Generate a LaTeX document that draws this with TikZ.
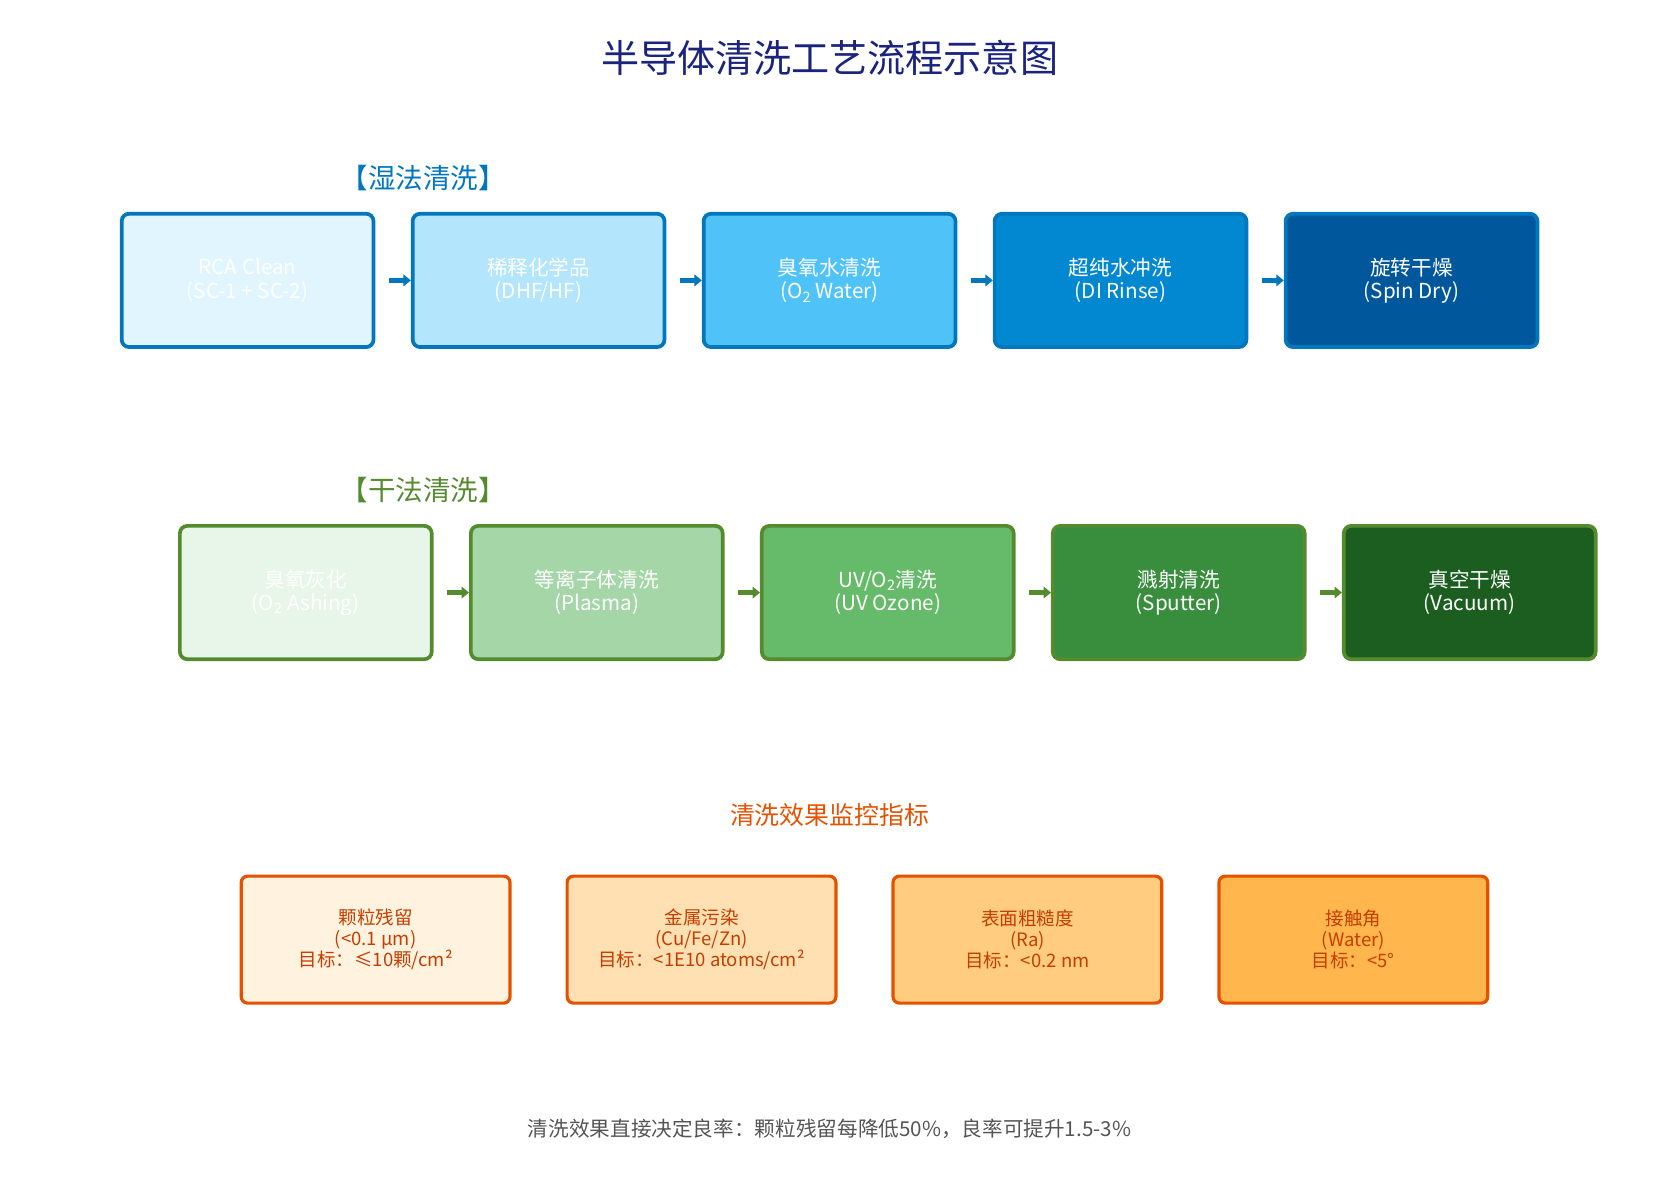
\documentclass[tikz,border=0pt]{standalone}
\usepackage{fontspec}
\setmainfont{Noto Sans CJK SC}
\usetikzlibrary{arrows.meta}

\definecolor{titleblue}{HTML}{1A237E}
\definecolor{wetline}{HTML}{0277BD}
\definecolor{wetA}{HTML}{E1F5FE}
\definecolor{wetB}{HTML}{B3E5FC}
\definecolor{wetC}{HTML}{4FC3F7}
\definecolor{wetD}{HTML}{0288D1}
\definecolor{wetE}{HTML}{01579B}
\definecolor{dryline}{HTML}{558B2F}
\definecolor{dryA}{HTML}{E8F5E9}
\definecolor{dryB}{HTML}{A5D6A7}
\definecolor{dryC}{HTML}{66BB6A}
\definecolor{dryD}{HTML}{388E3C}
\definecolor{dryE}{HTML}{1B5E20}
\definecolor{metline}{HTML}{E65100}
\definecolor{mettext}{HTML}{C43E00}
\definecolor{metA}{HTML}{FFF3E0}
\definecolor{metB}{HTML}{FFE0B2}
\definecolor{metC}{HTML}{FFCC80}
\definecolor{metD}{HTML}{FFB74D}
\definecolor{notegray}{HTML}{555555}

\tikzset{
  stepbox/.style={draw, line width=3.5pt, rounded corners=7pt, minimum width=238pt,
    minimum height=126pt, inner sep=0pt, align=center, text=white,
    font=\fontsize{19.5}{22}\selectfont},
  wetbox/.style={stepbox, draw=wetline},
  drybox/.style={stepbox, draw=dryline},
  metbox/.style={draw=metline, line width=3pt, rounded corners=6pt, minimum width=254pt,
    minimum height=120pt, inner sep=0pt, align=center, text=mettext,
    font=\fontsize{17.5}{20}\selectfont},
  heading/.style={font=\fontsize{26}{28}\selectfont},
  flow/.style={line width=4.5pt, shorten <=13pt, -{Triangle[length=7pt,width=11pt]}},
}

\begin{document}
\begin{tikzpicture}[x=1pt, y=-1pt]
\useasboundingbox (0,0) rectangle (1566,1120);

\node[text=titleblue, font=\fontsize{36}{40}\selectfont] (title) at (784,55) {半导体清洗工艺流程示意图};

% wet cleaning
\node[heading, text=wetline] (wethead) at (400,168) {【湿法清洗】};
\node[wetbox, fill=wetA] (wet1) at (234,265) {RCA Clean\\(SC-1 + SC-2)};
\node[wetbox, fill=wetB] (wet2) at (509,265) {稀释化学品\\(DHF/HF)};
\node[wetbox, fill=wetC] (wet3) at (784,265) {臭氧水清洗\\(O\textsubscript{2} Water)};
\node[wetbox, fill=wetD] (wet4) at (1059,265) {超纯水冲洗\\(DI Rinse)};
\node[wetbox, fill=wetE] (wet5) at (1334,265) {旋转干燥\\(Spin Dry)};

\foreach \a/\b in {wet1/wet2, wet2/wet3, wet3/wet4, wet4/wet5}
  \draw[flow, wetline] (\a) -- (\b);

% dry cleaning
\node[heading, text=dryline] (dryhead) at (400,463) {【干法清洗】};
\node[drybox, fill=dryA] (dry1) at (289,560) {臭氧灰化\\(O\textsubscript{2} Ashing)};
\node[drybox, fill=dryB] (dry2) at (564,560) {等离子体清洗\\(Plasma)};
\node[drybox, fill=dryC] (dry3) at (839,560) {UV/O\textsubscript{2}清洗\\(UV Ozone)};
\node[drybox, fill=dryD] (dry4) at (1114,560) {溅射清洗\\(Sputter)};
\node[drybox, fill=dryE] (dry5) at (1389,560) {真空干燥\\(Vacuum)};

\foreach \a/\b in {dry1/dry2, dry2/dry3, dry3/dry4, dry4/dry5}
  \draw[flow, dryline] (\a) -- (\b);

% monitoring
\node[text=metline, font=\fontsize{23.5}{26}\selectfont] (methead) at (784,770) {清洗效果监控指标};
\node[metbox, fill=metA] (met1) at (355,888) {颗粒残留\\(<0.1 μm)\\目标：≤10颗/cm²};
\node[metbox, fill=metB] (met2) at (663,888) {金属污染\\(Cu/Fe/Zn)\\目标：<1E10 atoms/cm²};
\node[metbox, fill=metC] (met3) at (971,888) {表面粗糙度\\(Ra)\\目标：<0.2 nm};
\node[metbox, fill=metD] (met4) at (1279,888) {接触角\\(Water)\\目标：<5°};

\node[text=notegray, font=\fontsize{19.5}{22}\selectfont] (note) at (784,1067) {清洗效果直接决定良率：颗粒残留每降低50\%，良率可提升1.5-3\%};
\end{tikzpicture}
\end{document}
